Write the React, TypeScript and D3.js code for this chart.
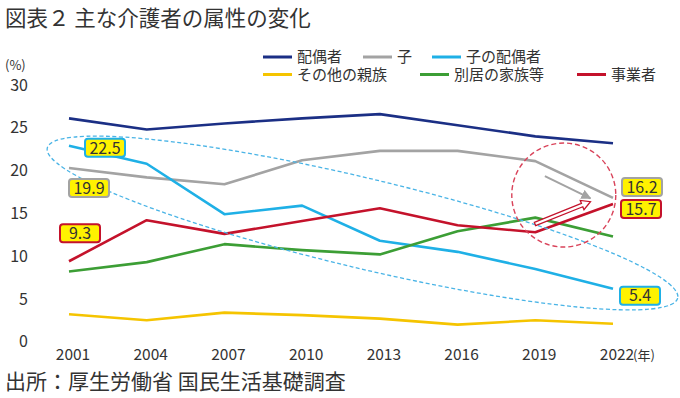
import React from 'react';
import * as d3 from 'd3';

const years = [2001, 2004, 2007, 2010, 2013, 2016, 2019, 2022];
const spouse = [26.1, 24.8, 25.5, 26.1, 26.6, 25.3, 24.0, 23.2];
const child = [20.3, 19.2, 18.4, 21.2, 22.3, 22.3, 21.1, 16.8];
const childSpouse = [22.9, 20.8, 14.9, 15.9, 11.8, 10.5, 8.5, 6.2];
const otherRelatives = [3.2, 2.5, 3.4, 3.1, 2.7, 2.0, 2.5, 2.1];
const separateFamily = [8.2, 9.3, 11.4, 10.7, 10.2, 12.9, 14.5, 12.3];
const business = [9.4, 14.2, 12.6, 14.1, 15.6, 13.6, 12.8, 16.1];
const yTicks = [0, 5, 10, 15, 20, 25, 30];

const series = [
  { name: '配偶者', values: spouse, color: '#1b2f85' },
  { name: '子', values: child, color: '#a3a3a3' },
  { name: '子の配偶者', values: childSpouse, color: '#1fb0e6' },
  { name: 'その他の親族', values: otherRelatives, color: '#f5c400' },
  { name: '別居の家族等', values: separateFamily, color: '#3c9e35' },
  { name: '事業者', values: business, color: '#c4122b' },
];

// callout boxes: text, border colour, anchor (year, value), pixel offset
const callouts = [
  { text: '22.5', color: '#1fb0e6', year: 2001, value: 22.9, dx: 36, dy: 2 },
  { text: '19.9', color: '#a3a3a3', year: 2001, value: 20.3, dx: 20, dy: 20 },
  { text: '9.3', color: '#c4122b', year: 2001, value: 9.4, dx: 11, dy: -28 },
  { text: '16.2', color: '#a3a3a3', year: 2022, value: 16.8, dx: 29, dy: -11 },
  { text: '15.7', color: '#c4122b', year: 2022, value: 16.1, dx: 28, dy: 5 },
  { text: '5.4', color: '#1fb0e6', year: 2022, value: 6.2, dx: 27, dy: 7 },
];

const FONT = '"Noto Sans CJK JP", "Noto Sans", sans-serif';

export default function App() {
  const width = 680;
  const height = 398;
  const x = d3.scaleLinear().domain([2001, 2022]).range([69, 613]);
  const y = d3.scaleLinear().domain([0, 30]).range([341.7, 85]);

  const line = d3
    .line<number>()
    .x((_, i) => x(years[i]))
    .y(d => y(d));

  // annotations (in data space)
  const ell = { cx: x(2012.33), cy: y(13.87), rx: 324, ry: 45, angle: 13.4 };
  const circ = { cx: x(2020.1), cy: y(17.14), r: 52 };
  const grayArrow = { x1: x(2019.37), y1: y(19.36), x2: x(2021.13), y2: y(16.76) };
  const redArrow = { x1: x(2018.99), y1: y(13.75), x2: x(2021.13), y2: y(16.36) };

  const ra = Math.atan2(redArrow.y2 - redArrow.y1, redArrow.x2 - redArrow.x1);
  const rLen = Math.hypot(redArrow.x2 - redArrow.x1, redArrow.y2 - redArrow.y1);
  const hw = 1.8, headW = 5, headL = 9;
  const redPts: [number, number][] = [
    [0, -hw], [rLen - headL, -hw], [rLen - headL, -headW], [rLen, 0],
    [rLen - headL, headW], [rLen - headL, hw], [0, hw],
  ];

  const legendRows = [
    [{ s: 0, lx: 263 }, { s: 1, lx: 363 }, { s: 2, lx: 432 }],
    [{ s: 3, lx: 263 }, { s: 4, lx: 420 }, { s: 5, lx: 577 }],
  ];

  return (
    <svg width={width} height={height} style={{ position: 'absolute', left: 0, top: 0 }} fontFamily={FONT}>
      <rect width={width} height={height} fill="#fff" />
      <text x={5} y={26} fontSize={21.5} fill="#333">図表２ 主な介護者の属性の変化</text>

      {legendRows.map((row, ri) =>
        row.map(({ s, lx }) => (
          <g key={`${ri}-${s}`} transform={`translate(${lx},${57 + ri * 17.5})`}>
            <line x1={0} x2={29} y1={0} y2={0} stroke={series[s].color} strokeWidth={3} />
            <text x={34} y={0} dy="0.35em" fontSize={15} fill="#333">{series[s].name}</text>
          </g>
        ))
      )}

      <text x={5} y={65} dy="0.35em" fontSize={13} fill="#333">(%)</text>
      {yTicks.map(t => (
        <text key={t} x={28} y={y(t)} dy="0.35em" textAnchor="end" fontSize={16} fill="#333">{t}</text>
      ))}
      {years.map(yr => (
        <text key={yr} x={x(yr) + 4} y={355} dy="0.35em" textAnchor="middle" fontSize={15.5} fill="#333">{yr}</text>
      ))}
      <text x={x(2022) + 20} y={355} dy="0.35em" fontSize={13} fill="#333">(年)</text>

      {series.map(s => (
        <path key={s.name} d={line(s.values) ?? ''} fill="none" stroke={s.color} strokeWidth={2.6} strokeLinejoin="round" />
      ))}

      <ellipse
        cx={ell.cx} cy={ell.cy} rx={ell.rx} ry={ell.ry}
        transform={`rotate(${ell.angle},${ell.cx},${ell.cy})`}
        fill="none" stroke="#4ab4e6" strokeWidth={1.3} strokeDasharray="4 2.5"
      />
      <circle cx={circ.cx} cy={circ.cy} r={circ.r} fill="none" stroke="#d9435a" strokeWidth={1.4} strokeDasharray="5 3" />

      <defs>
        <marker id="gh" viewBox="0 0 10 10" refX={9} refY={5} markerWidth={5} markerHeight={5} orient="auto">
          <path d="M0,0 L10,5 L0,10 z" fill="#a3a3a3" />
        </marker>
      </defs>
      <line x1={grayArrow.x1} y1={grayArrow.y1} x2={grayArrow.x2} y2={grayArrow.y2} stroke="#a3a3a3" strokeWidth={2} markerEnd="url(#gh)" />
      <polygon
        points={redPts.map(p => p.join(',')).join(' ')}
        transform={`translate(${redArrow.x1},${redArrow.y1}) rotate(${(ra * 180) / Math.PI})`}
        fill="#fff" stroke="#c4122b" strokeWidth={1.3} strokeLinejoin="miter"
      />

      {callouts.map(c => {
        const cx = x(c.year) + c.dx;
        const cy = y(c.value) + c.dy;
        const w = 40;
        return (
          <g key={c.text}>
            <rect x={cx - w / 2} y={cy - 9} width={w} height={18} rx={3} fill="#fff200" stroke={c.color} strokeWidth={2} />
            <text x={cx} y={cy} dy="0.36em" textAnchor="middle" fontSize={16} fill="#333">{c.text}</text>
          </g>
        );
      })}

      <text x={5} y={382} dy="0.35em" fontSize={21} fill="#333">出所：厚生労働省 国民生活基礎調査</text>
    </svg>
  );
}
